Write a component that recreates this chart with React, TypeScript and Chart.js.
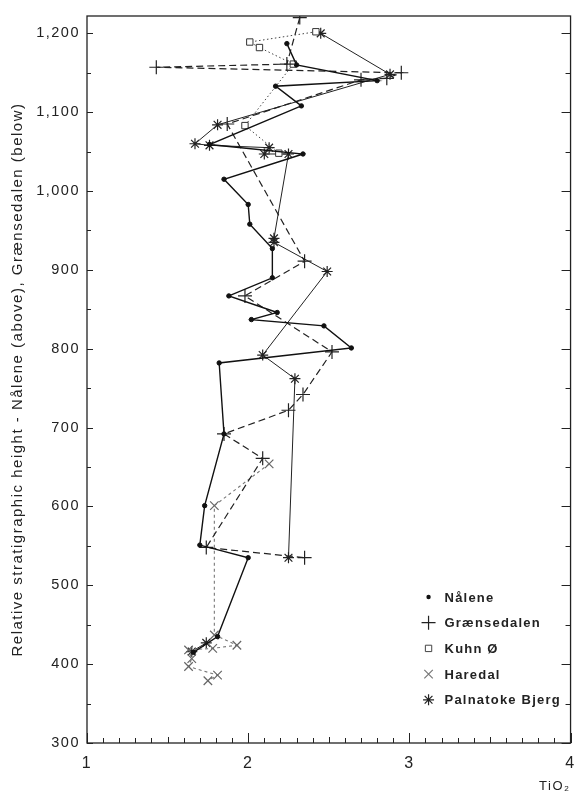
import React, { useEffect, useRef } from 'react';
import { Chart, registerables } from 'chart.js';

Chart.register(...registerables);

// ---- data ----
const seriesNames = ['Nålene', 'Grænsedalen', 'Kuhn Ø', 'Haredal', 'Palnatoke Bjerg'];

const naleneTiO2 = [2.24, 2.30, 2.80, 2.17, 2.33, 1.76, 2.34, 1.85, 2.00, 2.01, 2.15, 2.15, 1.88, 2.18, 2.02, 2.47, 2.64, 1.82, 1.85, 1.73, 1.70, 2.00, 1.81, 1.66];
const naleneHeight = [1187, 1160, 1140, 1133, 1108, 1059, 1047, 1015, 983, 958, 927, 890, 867, 846, 837, 829, 801, 782, 692, 601, 551, 535, 435, 415];

const graensedalenTiO2 = [2.32, 2.24, 1.43, 2.95, 2.86, 2.70, 1.87, 2.35, 1.98, 2.52, 2.34, 2.25, 1.85, 2.09, 1.74, 2.35];
const graensedalenHeight = [1220, 1161, 1157, 1150, 1143, 1141, 1085, 911, 867, 796, 742, 722, 692, 661, 548, 535];

const kuhnTiO2 = [2.42, 2.01, 2.07, 2.28, 1.98, 2.19];
const kuhnHeight = [1202, 1189, 1182, 1161, 1083, 1048];

const haredalTiO2 = [2.13, 1.79, 1.79, 1.93, 1.78, 1.63, 1.65, 1.63, 1.81, 1.75];
const haredalHeight = [654, 601, 437, 424, 420, 418, 407, 397, 386, 379];

const palnatokeTiO2 = [2.45, 2.88, 1.81, 1.67, 1.76, 2.13, 2.10, 2.25, 2.16, 2.16, 2.49, 2.09, 2.29, 2.25, null, 1.74, 1.65];
const palnatokeHeight = [1200, 1148, 1084, 1060, 1058, 1055, 1047, 1047, 940, 935, 898, 792, 762, 535, null, 427, 416];

const xTickValues = [1, 2, 3, 4];
const yTickValues = [300, 400, 500, 600, 700, 800, 900, 1000, 1100, 1200];

const FONT = '"Liberation Sans", Arial, Helvetica, sans-serif';

function zip(xs: (number | null)[], ys: (number | null)[]) {
  return xs.map((x, i) => ({ x: x as number, y: ys[i] as number }));
}

function drawSymbol(ctx: CanvasRenderingContext2D, style: string, x: number, y: number, r: number) {
  ctx.beginPath();
  if (style === 'circle') {
    ctx.arc(x, y, r, 0, Math.PI * 2);
    ctx.fill();
    return;
  }
  if (style === 'rect') {
    const s = r * Math.SQRT1_2;
    ctx.rect(x - s, y - s, 2 * s, 2 * s);
    ctx.stroke();
    return;
  }
  if (style === 'cross' || style === 'star') {
    ctx.moveTo(x - r, y); ctx.lineTo(x + r, y);
    ctx.moveTo(x, y - r); ctx.lineTo(x, y + r);
  }
  if (style === 'crossRot' || style === 'star') {
    const d = r * Math.SQRT1_2;
    ctx.moveTo(x - d, y - d); ctx.lineTo(x + d, y + d);
    ctx.moveTo(x - d, y + d); ctx.lineTo(x + d, y - d);
  }
  ctx.stroke();
}

const framePlugin = {
  id: 'frameTicks',
  beforeDraw(chart: any) {
    chart.ctx.letterSpacing = '1.5px';
  },
  afterDraw(chart: any) {
    const { ctx, chartArea } = chart;
    const { left, right, top, bottom } = chartArea;
    const xs = chart.scales.x;
    const ys = chart.scales.y;
    ctx.save();
    ctx.letterSpacing = '0px';
    ctx.strokeStyle = '#222';
    ctx.lineWidth = 1.3;
    ctx.strokeRect(left, top, right - left, bottom - top);
    ctx.lineWidth = 1;
    ctx.beginPath();
    for (let v = 300; v <= 1200; v += 50) {
      const py = Math.round(ys.getPixelForValue(v)) + 0.5;
      const major = v % 100 === 0;
      ctx.moveTo(left, py); ctx.lineTo(left + (major ? 6 : 4), py);
      ctx.moveTo(right, py); ctx.lineTo(right - (major ? 9 : 5), py);
    }
    for (let k = 10; k <= 40; k++) {
      const px = Math.round(xs.getPixelForValue(k / 10)) + 0.5;
      const len = k % 10 === 0 ? 10 : k % 5 === 0 ? 6 : 5;
      ctx.moveTo(px, bottom); ctx.lineTo(px, bottom - len);
    }
    ctx.stroke();

    // legend inside the plot, bottom right
    const x0 = right - 142;
    const y0 = bottom - 146;
    chart.data.datasets.forEach((ds: any, i: number) => {
      const y = y0 + i * 25.7;
      ctx.strokeStyle = ds.borderColor;
      ctx.fillStyle = ds.pointBackgroundColor;
      ctx.lineWidth = ds.pointBorderWidth;
      drawSymbol(ctx, ds.pointStyle, x0, y, ds.pointRadius);
      ctx.fillStyle = '#222';
      ctx.font = `bold 13px ${FONT}`;
      ctx.letterSpacing = '1.2px';
      ctx.textBaseline = 'middle';
      ctx.textAlign = 'left';
      ctx.fillText(ds.label, x0 + 16, y + 1);
      ctx.letterSpacing = '0px';
    });
    ctx.restore();
  },
};

export default function App() {
  const canvasRef = useRef<HTMLCanvasElement | null>(null);

  useEffect(() => {
    const canvas = canvasRef.current;
    if (!canvas) return;
    const chart = new Chart(canvas, {
      type: 'scatter',
      data: {
        datasets: [
          {
            label: seriesNames[0],
            data: zip(naleneTiO2, naleneHeight),
            showLine: true,
            borderColor: '#111',
            borderWidth: 1.4,
            pointStyle: 'circle',
            pointRadius: 2.2,
            pointBackgroundColor: '#111',
            pointBorderColor: '#111',
            pointBorderWidth: 1,
          },
          {
            label: seriesNames[1],
            data: zip(graensedalenTiO2, graensedalenHeight),
            showLine: true,
            borderColor: '#222',
            borderWidth: 1.2,
            borderDash: [7, 4],
            pointStyle: 'cross',
            pointRadius: 7,
            pointBackgroundColor: '#222',
            pointBorderColor: '#222',
            pointBorderWidth: 1.2,
          },
          {
            label: seriesNames[2],
            data: zip(kuhnTiO2, kuhnHeight),
            showLine: true,
            borderColor: '#444',
            borderWidth: 1,
            borderDash: [1.5, 2.5],
            pointStyle: 'rect',
            pointRadius: 4.5,
            pointBackgroundColor: '#fff',
            pointBorderColor: '#333',
            pointBorderWidth: 1,
          },
          {
            label: seriesNames[3],
            data: zip(haredalTiO2, haredalHeight),
            showLine: true,
            borderColor: '#777',
            borderWidth: 1.1,
            borderDash: [3, 3],
            pointStyle: 'crossRot',
            pointRadius: 6,
            pointBackgroundColor: '#777',
            pointBorderColor: '#666',
            pointBorderWidth: 1.2,
          },
          {
            label: seriesNames[4],
            data: zip(palnatokeTiO2, palnatokeHeight),
            showLine: true,
            spanGaps: false,
            borderColor: '#222',
            borderWidth: 1,
            pointStyle: 'star',
            pointRadius: 5.5,
            pointBackgroundColor: '#222',
            pointBorderColor: '#222',
            pointBorderWidth: 1.2,
          },
        ],
      } as any,
      options: {
        animation: false,
        responsive: false,
        devicePixelRatio: 1,
        layout: { padding: { top: 16, right: 5, left: 0, bottom: 0 } },
        plugins: { legend: { display: false }, tooltip: { enabled: false } },
        scales: {
          x: {
            type: 'linear',
            min: 1,
            max: 4,
            afterFit: (s: any) => { s.height = 53; },
            afterBuildTicks: (s: any) => { s.ticks = xTickValues.map((v) => ({ value: v })); },
            grid: { display: false, drawTicks: false },
            border: { display: false },
            ticks: { padding: 11, color: '#222', font: { size: 16, family: FONT } },
            title: {
              display: true,
              text: 'TiO₂',
              align: 'end',
              color: '#222',
              font: { size: 13, family: FONT },
              padding: { top: 0, bottom: 2 },
            },
          },
          y: {
            type: 'linear',
            min: 300,
            max: 1222,
            afterFit: (s: any) => { s.width = 87; },
            afterBuildTicks: (s: any) => { s.ticks = yTickValues.map((v) => ({ value: v })); },
            grid: { display: false, drawTicks: false },
            border: { display: false },
            ticks: {
              padding: 7,
              color: '#222',
              font: { size: 14.5, family: FONT },
              callback: (v: any) => Number(v).toLocaleString('en-US'),
            },
            title: {
              display: true,
              text: 'Relative stratigraphic height - Nålene (above), Grænsedalen (below)',
              color: '#222',
              font: { size: 15, family: FONT },
              padding: { top: 9, bottom: 0 },
            },
          },
        },
      } as any,
      plugins: [framePlugin],
    });
    return () => chart.destroy();
  }, []);

  return (
    <div style={{ position: 'absolute', left: 0, top: 0, width: 586, height: 796, background: '#fff' }}>
      <canvas ref={canvasRef} width={586} height={796} style={{ display: 'block', width: 586, height: 796 }} />
    </div>
  );
}
